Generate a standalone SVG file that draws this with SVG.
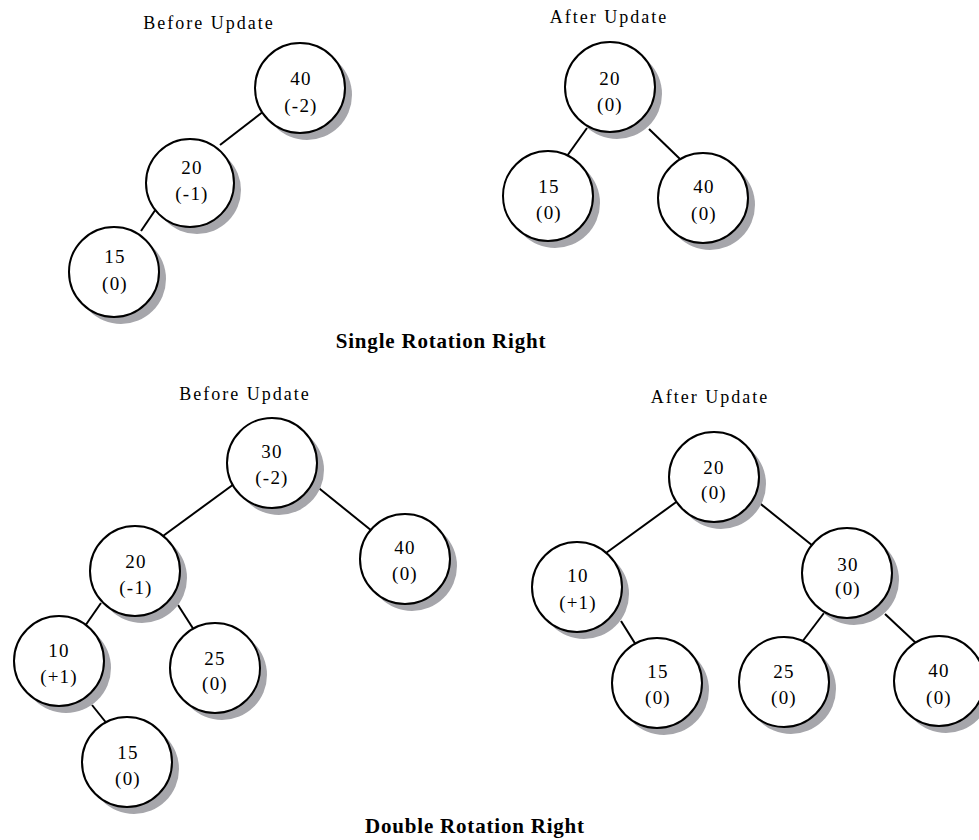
<svg xmlns="http://www.w3.org/2000/svg" width="979" height="840" viewBox="0 0 979 840">
<style>
.sh{fill:#a6a6ab}
.nd{fill:#fff;stroke:#000;stroke-width:2}
.ed{stroke:#000;stroke-width:2;fill:none}
text{font-family:"Liberation Serif","Times New Roman",serif;fill:#000;text-anchor:middle}
.t{font-size:19px;letter-spacing:1.2px}
.ttl{font-size:18px;letter-spacing:2px}
.cap{font-size:21px;font-weight:bold;letter-spacing:0.8px}
</style>
<rect width="979" height="840" fill="#fff"/>
<g id="labels">
<text class="ttl" x="209" y="29">Before Update</text>
<text class="ttl" x="609" y="23">After Update</text>
<text class="cap" x="441" y="348">Single Rotation Right</text>
<text class="ttl" x="245" y="400">Before Update</text>
<text class="ttl" x="710" y="403">After Update</text>
<text class="cap" x="475" y="833">Double Rotation Right</text>
</g>
<g id="connectors">
<line class="ed" x1="264" y1="111" x2="220" y2="145"/>
<line class="ed" x1="158" y1="206" x2="141" y2="231"/>
<line class="ed" x1="587" y1="128" x2="567" y2="156"/>
<line class="ed" x1="649" y1="129" x2="680" y2="159"/>
<line class="ed" x1="234" y1="484" x2="163" y2="536"/>
<line class="ed" x1="315" y1="485" x2="372" y2="531"/>
<line class="ed" x1="101" y1="603" x2="85" y2="626"/>
<line class="ed" x1="178" y1="605" x2="194" y2="630"/>
<line class="ed" x1="92" y1="705" x2="108" y2="725"/>
<line class="ed" x1="679" y1="500" x2="606" y2="553"/>
<line class="ed" x1="621" y1="621" x2="636" y2="645"/>
<line class="ed" x1="757" y1="501" x2="813" y2="546"/>
<line class="ed" x1="824" y1="613" x2="802" y2="642"/>
<line class="ed" x1="885" y1="614" x2="917" y2="644"/>
</g>
<g id="n1"><circle class="sh" cx="307" cy="95" r="45"/><circle class="nd" cx="300" cy="88" r="45"/><text class="t" x="301" y="85">40</text><text class="t" x="301" y="112">(-2)</text></g>
<g id="n2"><circle class="sh" cx="197" cy="190" r="44"/><circle class="nd" cx="190" cy="183" r="44"/><text class="t" x="192" y="174">20</text><text class="t" x="192" y="200">(-1)</text></g>
<g id="n3"><circle class="sh" cx="121" cy="279" r="45"/><circle class="nd" cx="114" cy="272" r="45"/><text class="t" x="115" y="263">15</text><text class="t" x="115" y="290">(0)</text></g>
<g id="n4"><circle class="sh" cx="617" cy="94" r="45"/><circle class="nd" cx="610" cy="87" r="45"/><text class="t" x="610" y="85">20</text><text class="t" x="610" y="111">(0)</text></g>
<g id="n5"><circle class="sh" cx="555" cy="203" r="45"/><circle class="nd" cx="548" cy="196" r="45"/><text class="t" x="549" y="193">15</text><text class="t" x="549" y="219">(0)</text></g>
<g id="n6"><circle class="sh" cx="710" cy="205" r="45"/><circle class="nd" cx="703" cy="198" r="45"/><text class="t" x="704" y="193">40</text><text class="t" x="704" y="220">(0)</text></g>
<g id="n7"><circle class="sh" cx="279" cy="470" r="45"/><circle class="nd" cx="272" cy="463" r="45"/><text class="t" x="272" y="458">30</text><text class="t" x="272" y="484">(-2)</text></g>
<g id="n8"><circle class="sh" cx="142" cy="578" r="45"/><circle class="nd" cx="135" cy="571" r="45"/><text class="t" x="136" y="568">20</text><text class="t" x="136" y="594">(-1)</text></g>
<g id="n9"><circle class="sh" cx="412" cy="566" r="45"/><circle class="nd" cx="405" cy="559" r="45"/><text class="t" x="405" y="554">40</text><text class="t" x="405" y="580">(0)</text></g>
<g id="n10"><circle class="sh" cx="66" cy="668" r="45"/><circle class="nd" cx="59" cy="661" r="45"/><text class="t" x="59" y="657">10</text><text class="t" x="59" y="683">(+1)</text></g>
<g id="n11"><circle class="sh" cx="222" cy="675" r="45"/><circle class="nd" cx="215" cy="668" r="45"/><text class="t" x="215" y="665">25</text><text class="t" x="215" y="690">(0)</text></g>
<g id="n12"><circle class="sh" cx="134" cy="769" r="45"/><circle class="nd" cx="127" cy="762" r="45"/><text class="t" x="128" y="759">15</text><text class="t" x="128" y="785">(0)</text></g>
<g id="n13"><circle class="sh" cx="721" cy="484" r="45"/><circle class="nd" cx="714" cy="477" r="45"/><text class="t" x="714" y="474">20</text><text class="t" x="714" y="499">(0)</text></g>
<g id="n14"><circle class="sh" cx="584" cy="594" r="45"/><circle class="nd" cx="577" cy="587" r="45"/><text class="t" x="578" y="582">10</text><text class="t" x="578" y="609">(+1)</text></g>
<g id="n15"><circle class="sh" cx="854" cy="580" r="45"/><circle class="nd" cx="847" cy="573" r="45"/><text class="t" x="848" y="571">30</text><text class="t" x="848" y="595">(0)</text></g>
<g id="n16"><circle class="sh" cx="664" cy="690" r="45"/><circle class="nd" cx="657" cy="683" r="45"/><text class="t" x="658" y="678">15</text><text class="t" x="658" y="704">(0)</text></g>
<g id="n17"><circle class="sh" cx="791" cy="689" r="45"/><circle class="nd" cx="784" cy="682" r="45"/><text class="t" x="784" y="678">25</text><text class="t" x="784" y="704">(0)</text></g>
<g id="n18"><circle class="sh" cx="946" cy="688" r="45"/><circle class="nd" cx="939" cy="681" r="45"/><text class="t" x="939" y="677">40</text><text class="t" x="939" y="704">(0)</text></g>
</svg>
